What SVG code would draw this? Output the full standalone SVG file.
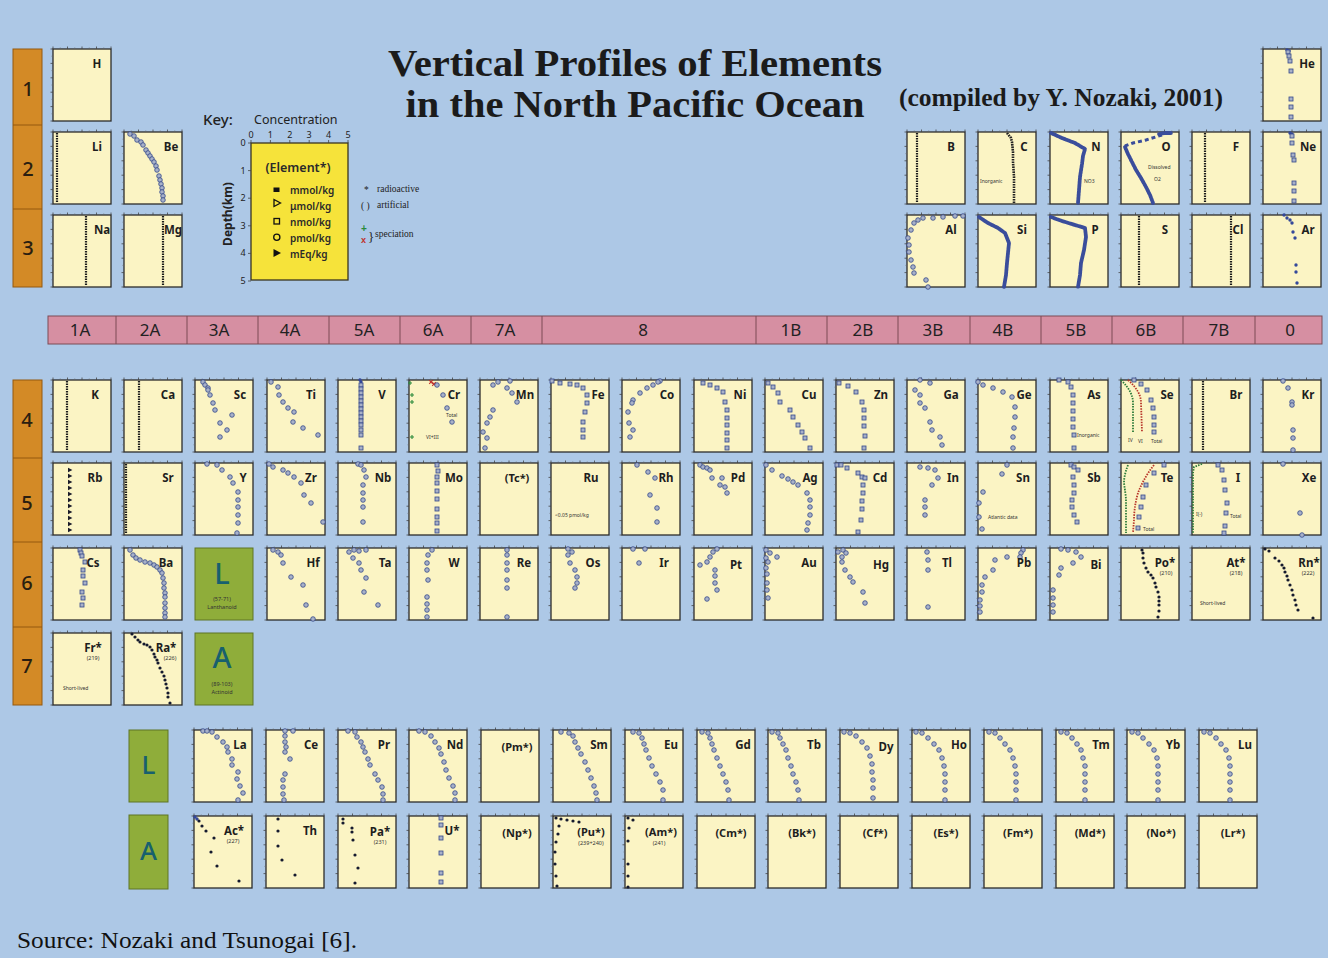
<svg xmlns="http://www.w3.org/2000/svg" xmlns:xlink="http://www.w3.org/1999/xlink" width="1328" height="958" viewBox="0 0 1328 958">
<style>
.bx{fill:#fbf4c4;stroke:#2b2b2b;stroke-width:1.3}
.tk{stroke:#444;stroke-width:.8;fill:none}
.tm{stroke:#666;stroke-width:.6;fill:none}
.s{font:700 11.5px "Noto Sans","DejaVu Sans",sans-serif;fill:#1e1e1e;text-anchor:middle}
.p{font:700 11px "Noto Sans","DejaVu Sans",sans-serif;fill:#1e1e1e;text-anchor:middle}
.t5{font:5px "Noto Sans","DejaVu Sans",sans-serif;fill:#333}
.t6{font:5.5px "Noto Sans","DejaVu Sans",sans-serif;fill:#333;text-anchor:middle}
.dl{stroke:#1b1b1b;stroke-width:2.2;stroke-dasharray:1.4 1.1;fill:none}
.dk{stroke:#222;stroke-width:2.6;stroke-dasharray:1.6 .9;fill:none;stroke-linejoin:round}
.bl{stroke:#3a4d9b;stroke-width:3.8;fill:none;stroke-linejoin:round;stroke-linecap:round;stroke-dasharray:2.4 .8}
.bd{stroke:#3a4d9b;stroke-width:3;fill:none;stroke-dasharray:4 3}
.gl{stroke:#2a7a38;stroke-width:1.8;fill:none;stroke-dasharray:1.5 1.2}
.rl{stroke:#b8352a;stroke-width:1.8;fill:none;stroke-dasharray:1.5 1.2}
.pc{fill:none;stroke:none;marker-start:url(#mc);marker-mid:url(#mc);marker-end:url(#mc)}
.ps{fill:none;stroke:none;marker-start:url(#ms);marker-mid:url(#ms);marker-end:url(#ms)}
.pf{fill:none;stroke:none;marker-start:url(#mf);marker-mid:url(#mf);marker-end:url(#mf)}
.pt{fill:none;stroke:none;marker-start:url(#mt);marker-mid:url(#mt);marker-end:url(#mt)}
.pb{fill:none;stroke:none;marker-start:url(#mb);marker-mid:url(#mb);marker-end:url(#mb)}
.pg{fill:none;stroke:none;marker-start:url(#mg);marker-mid:url(#mg);marker-end:url(#mg)}
.pr{fill:none;stroke:none;marker-start:url(#mr);marker-mid:url(#mr);marker-end:url(#mr)}
.per{fill:#d38a26;stroke:#94580f;stroke-width:1}
.pn{font:500 20px "Noto Sans","DejaVu Sans",sans-serif;fill:#2a1e10;text-anchor:middle}
.gh{font:17px "Noto Sans","DejaVu Sans",sans-serif;fill:#222;text-anchor:middle}
.grn{fill:#8fad3a;stroke:#5e7424;stroke-width:1}
.gL{font:500 29px "Noto Sans","DejaVu Sans",sans-serif;fill:#17606e;text-anchor:middle}
.ttl{font:700 37px "Liberation Serif","Times New Roman",serif;fill:#1b1b1b;text-anchor:middle}
.ks{font:9.5px "Liberation Serif",serif;fill:#222}
.kx{font:9px "Noto Sans","DejaVu Sans",sans-serif;fill:#222;text-anchor:middle}
.kl{font:600 10px "Noto Sans","DejaVu Sans",sans-serif;fill:#2a2a2a}
</style>
<defs>
<marker id="mc" viewBox="-3 -3 6 6" markerWidth="6" markerHeight="6" refX="0" refY="0" markerUnits="userSpaceOnUse"><circle r="2.3" fill="#a8b1c8" stroke="#34488a" stroke-width=".8"/></marker>
<marker id="ms" viewBox="-3 -3 6 6" markerWidth="6" markerHeight="6" refX="0" refY="0" markerUnits="userSpaceOnUse"><rect x="-2" y="-2" width="4" height="4" fill="#a8b1c8" stroke="#34488a" stroke-width=".8"/></marker>
<marker id="mf" viewBox="-3 -3 6 6" markerWidth="6" markerHeight="6" refX="0" refY="0" markerUnits="userSpaceOnUse"><circle r="1.6" fill="#151a2e"/></marker>
<marker id="mt" viewBox="-3 -3 6 6" markerWidth="6" markerHeight="6" refX="0" refY="0" markerUnits="userSpaceOnUse"><path d="M-2,-2.2L2.4,0L-2,2.2Z" fill="#1a1a2a"/></marker>
<marker id="mb" viewBox="-3 -3 6 6" markerWidth="6" markerHeight="6" refX="0" refY="0" markerUnits="userSpaceOnUse"><circle r="1.7" fill="#34489a"/></marker>
<marker id="mg" viewBox="-3 -3 6 6" markerWidth="6" markerHeight="6" refX="0" refY="0" markerUnits="userSpaceOnUse"><path d="M-2,0H2M0,-2V2" stroke="#2a8a3a" stroke-width="1.1"/></marker>
<marker id="mr" viewBox="-3 -3 6 6" markerWidth="6" markerHeight="6" refX="0" refY="0" markerUnits="userSpaceOnUse"><path d="M-1.8,-1.8L1.8,1.8M-1.8,1.8L1.8,-1.8" stroke="#c0302a" stroke-width="1.1"/></marker>
<g id="fr"><rect class="bx" width="58" height="72"/><path class="tk" d="M0,0v-2.5M14.5,0v-2.5M29,0v-2.5M43.5,0v-2.5M58,0v-2.5M0,0h-2.5M0,14.4h-2.5M0,28.8h-2.5M0,43.2h-2.5M0,57.6h-2.5M0,72h-2.5"/><path class="tm" d="M0,7.2h-1.5M0,21.6h-1.5M0,36h-1.5M0,50.4h-1.5M0,64.8h-1.5M7.25,0v-1.5M21.75,0v-1.5M36.25,0v-1.5M50.75,0v-1.5"/></g>
</defs>
<rect width="1328" height="958" fill="#adc8e6"/>

<g id="title">
<text class="ttl" x="635" y="76" textLength="494" lengthAdjust="spacingAndGlyphs">Vertical Profiles of Elements</text>
<text class="ttl" x="635" y="117" textLength="459" lengthAdjust="spacingAndGlyphs">in the North Pacific Ocean</text>
<text x="899" y="106" textLength="324" lengthAdjust="spacingAndGlyphs" style="font:700 25px 'Liberation Serif','Times New Roman',serif;fill:#1b1b1b">(compiled by Y. Nozaki, 2001)</text>
</g>

<g id="periods">
<rect class="per" x="13" y="49" width="29" height="238"/>
<path d="M13,125H42M13,209H42" stroke="#94580f" stroke-width="1"/>
<text class="pn" x="28" y="96">1</text><text class="pn" x="28" y="176">2</text><text class="pn" x="28" y="255">3</text>
<rect class="per" x="13" y="380" width="29" height="325"/>
<path d="M13,458H42M13,542H42M13,627H42" stroke="#94580f" stroke-width="1"/>
<text class="pn" x="27" y="427">4</text><text class="pn" x="27" y="510">5</text><text class="pn" x="27" y="590">6</text><text class="pn" x="27" y="673">7</text>
</g>

<g id="groups">
<rect x="48" y="316" width="1274" height="28" fill="#d68fa2" stroke="#7d4a55" stroke-width="1"/>
<path d="M116,316V344M187,316V344M258,316V344M329,316V344M400,316V344M471,316V344M542,316V344M756,316V344M827,316V344M898,316V344M970,316V344M1041,316V344M1112,316V344M1183,316V344M1255,316V344" stroke="#7d4a55" stroke-width="1"/>
<text class="gh" x="80" y="336">1A</text><text class="gh" x="150" y="336">2A</text><text class="gh" x="219" y="336">3A</text><text class="gh" x="290" y="336">4A</text><text class="gh" x="364" y="336">5A</text><text class="gh" x="433" y="336">6A</text><text class="gh" x="505" y="336">7A</text><text class="gh" x="643" y="336">8</text><text class="gh" x="791" y="336">1B</text><text class="gh" x="863" y="336">2B</text><text class="gh" x="933" y="336">3B</text><text class="gh" x="1003" y="336">4B</text><text class="gh" x="1076" y="336">5B</text><text class="gh" x="1146" y="336">6B</text><text class="gh" x="1219" y="336">7B</text><text class="gh" x="1290" y="336">0</text>
</g>

<g id="key">
<text x="203" y="125" style="font:500 15px 'Noto Sans','DejaVu Sans',sans-serif;fill:#222">Key:</text>
<text x="254" y="124" style="font:12.5px 'Noto Sans','DejaVu Sans',sans-serif;fill:#222">Concentration</text>
<rect x="251" y="143" width="97" height="137" fill="#f6e33a" stroke="#3a3520" stroke-width="1.3"/>
<path class="tk" d="M251,143v-3M270.4,143v-3M289.8,143v-3M309.2,143v-3M328.6,143v-3M348,143v-3M251,143h-3M251,170.6h-3M251,198.2h-3M251,225.8h-3M251,253.4h-3M251,281h-3"/>
<text class="kx" x="251" y="138">0</text><text class="kx" x="270.4" y="138">1</text><text class="kx" x="289.8" y="138">2</text><text class="kx" x="309.2" y="138">3</text><text class="kx" x="328.6" y="138">4</text><text class="kx" x="348" y="138">5</text>
<text class="kx" x="243" y="146">0</text><text class="kx" x="243" y="174">1</text><text class="kx" x="243" y="201">2</text><text class="kx" x="243" y="229">3</text><text class="kx" x="243" y="256">4</text><text class="kx" x="243" y="284">5</text>
<text transform="translate(232,214) rotate(-90)" text-anchor="middle" style="font:700 12px 'Noto Sans','DejaVu Sans',sans-serif;fill:#222">Depth(km)</text>
<text x="298" y="172" text-anchor="middle" style="font:600 12.5px 'Noto Sans','DejaVu Sans',sans-serif;fill:#2a2a2a">(Element*)</text>
<rect x="273.5" y="187.5" width="6" height="4.5" fill="#111"/>
<path d="M274,199.5L280.5,203L274,206.5Z" fill="none" stroke="#111" stroke-width="1.3"/>
<rect x="274" y="218.5" width="5.5" height="5.5" fill="none" stroke="#111" stroke-width="1.3"/>
<circle cx="276.8" cy="237.3" r="3.1" fill="none" stroke="#111" stroke-width="1.3"/>
<path d="M273.5,249L281,253L273.5,257Z" fill="#111"/>
<text class="kl" x="290" y="194">mmol/kg</text>
<text class="kl" x="290" y="210">μmol/kg</text>
<text class="kl" x="290" y="226">nmol/kg</text>
<text class="kl" x="290" y="242">pmol/kg</text>
<text class="kl" x="290" y="258">mEq/kg</text>
<text class="ks" x="364" y="193">*</text><text class="ks" x="377" y="192">radioactive</text>
<text class="ks" x="361" y="209">( )</text><text class="ks" x="377" y="208">artificial</text>
<text x="361" y="232" style="font:700 10px 'Liberation Sans',sans-serif;fill:#2a8a3a">+</text>
<text x="361" y="243" style="font:700 9px 'Liberation Sans',sans-serif;fill:#c0302a">x</text>
<text x="368" y="241" style="font:13px 'Liberation Serif',serif;fill:#222">}</text>
<text class="ks" x="375" y="237">speciation</text>
</g>

<g id="connectors"></g>

<!-- Period 1 -->
<g id="n-H" transform="translate(53,49)"><use href="#fr"/><text class="s" x="44" y="19">H</text></g>
<g id="n-He" transform="translate(1263,49)"><use href="#fr"/><polyline class="pb" points="24,1 26,2"/><polyline class="ps" points="25,3 26,7 27,12 28,22 28,50 28,58 28,68"/><text class="s" x="44" y="19">He</text></g>

<!-- Period 2 -->
<g id="n-Li" transform="translate(53,132)"><use href="#fr"/><line class="dl" x1="4" y1="1" x2="4" y2="71"/><text class="s" x="44" y="19">Li</text></g>
<g id="n-Be" transform="translate(124,132)"><use href="#fr"/><polyline class="pc" points="6,2 10,4 13,8 17,10 19,13 22,18 24,21 26,24 28,27 30,30 32,34 33,38 35,44 36,48 37,52 38,56 38,60 39,64 39,68"/><text class="s" x="47" y="19">Be</text></g>
<g id="n-B" transform="translate(907,132)"><use href="#fr"/><line class="dl" x1="10" y1="1" x2="10" y2="71"/><text class="s" x="44" y="19">B</text></g>
<g id="n-C" transform="translate(978,132)"><use href="#fr"/><polyline class="dk" points="29,1 33,6 34,10 35,20 35,30 36,45 36,71"/><text class="t5" x="2" y="51">Inorganic</text><text class="s" x="46" y="19">C</text></g>
<g id="n-N" transform="translate(1050,132)"><use href="#fr"/><polyline class="bl" points="1,1 12,6 25,11 35,17 33,24 32,32 30,45 29,58 28,71"/><text class="t5" x="34" y="51">NO3</text><text class="s" x="46" y="19">N</text></g>
<g id="n-O" transform="translate(1121,132)"><use href="#fr"/><polyline class="bd" points="41,3 25,8 12,11 4,14"/><polyline class="bl" points="38,2 44,1 50,1"/><polyline class="bl" points="4,15 7,22 11,30 15,38 20,46 25,55 29,63 32,71"/><text class="t5" x="27" y="37">Dissolved</text><text class="t5" x="33" y="49">O2</text><text class="s" x="45" y="19">O</text></g>
<g id="n-F" transform="translate(1192,132)"><use href="#fr"/><line class="dl" x1="13" y1="1" x2="13" y2="71"/><text class="s" x="44" y="19">F</text></g>
<g id="n-Ne" transform="translate(1263,132)"><use href="#fr"/><polyline class="pb" points="27,1 29,2"/><polyline class="ps" points="29,4 29,11 30,23 31,28 31,51 31,59 31,69"/><text class="s" x="45" y="19">Ne</text></g>

<!-- Period 3 -->
<g id="n-Na" transform="translate(53,215)"><use href="#fr"/><line class="dl" x1="33" y1="1" x2="33" y2="71"/><text class="s" x="49" y="19">Na</text></g>
<g id="n-Mg" transform="translate(124,215)"><use href="#fr"/><line class="dl" x1="39" y1="1" x2="39" y2="71"/><text class="s" x="49" y="19">Mg</text></g>
<g id="n-Al" transform="translate(907,215)"><use href="#fr"/><polyline class="pc" points="56,1 48,1 36,2 26,3 16,3 11,5 7,8 4,15 1,23 2,30 2,37 4,45 6,52 7,58 19,65 21,72"/><text class="s" x="44" y="19">Al</text></g>
<g id="n-Si" transform="translate(978,215)"><use href="#fr"/><polyline class="bl" points="1,2 10,8 20,13 27,18 31,28 30,38 29,48 28,60 26,72"/><text class="s" x="44" y="19">Si</text></g>
<g id="n-P" transform="translate(1050,215)"><use href="#fr"/><polyline class="bl" points="1,2 12,6 25,10 35,13 36,22 34,35 31,48 30,60 28,72"/><text class="s" x="45" y="19">P</text></g>
<g id="n-S" transform="translate(1121,215)"><use href="#fr"/><line class="dl" x1="18" y1="1" x2="18" y2="71"/><text class="s" x="44" y="19">S</text></g>
<g id="n-Cl" transform="translate(1192,215)"><use href="#fr"/><line class="dl" x1="39" y1="1" x2="39" y2="71"/><text class="s" x="46" y="19">Cl</text></g>
<g id="n-Ar" transform="translate(1263,215)"><use href="#fr"/><polyline class="pb" points="21,0 24,3 27,5 29,8 30,17 32,23 33,50 33,57 34,68"/><text class="s" x="45" y="19">Ar</text></g>

<!-- Period 4 -->
<g id="n-K" transform="translate(53,380)"><use href="#fr"/><line class="dl" x1="14" y1="1" x2="14" y2="71"/><text class="s" x="42" y="19">K</text></g>
<g id="n-Ca" transform="translate(124,380)"><use href="#fr"/><line class="dl" x1="15" y1="1" x2="15" y2="71"/><text class="s" x="44" y="19">Ca</text></g>
<g id="n-Sc" transform="translate(195,380)"><use href="#fr"/><polyline class="pc" points="8,2 10,5 13,8 13,10 15,15 18,23 20,30 37,35 25,43 32,50 25,57"/><text class="s" x="45" y="19">Sc</text></g>
<g id="n-Ti" transform="translate(267,380)"><use href="#fr"/><polyline class="pc" points="4,2 11,7 12,15 16,22 21,28 27,32 26,42 36,48 51,55"/><text class="s" x="44" y="19">Ti</text></g>
<g id="n-V" transform="translate(338,380)"><use href="#fr"/><polyline class="pb" points="22,0 23,2"/><polyline class="ps" points="23,5 23,9 23,13 23,17 23,21 23,25 23,29 23,33 23,37 23,41 23,45 23,50 23,55 23,68"/><text class="s" x="44" y="19">V</text></g>
<g id="n-Cr" transform="translate(409,380)"><use href="#fr"/><polyline class="pg" points="1,3 3,15 3,22 3,57"/><polyline class="pr" points="22,2 25,4"/><polyline class="pc" points="28,5 34,15 38,28 43,42"/><text class="t5" x="37" y="37">Total</text><text class="t5" x="17" y="59">VI+III</text><text class="s" x="45" y="19">Cr</text></g>
<g id="n-Mn" transform="translate(480,380)"><use href="#fr"/><polyline class="pc" points="13,5 18,2 30,1 27,8 32,13 37,22 13,30 10,37 7,43 3,52 7,58 5,68"/><text class="s" x="45" y="19">Mn</text></g>
<g id="n-Fe" transform="translate(551,380)"><use href="#fr"/><polyline class="ps" points="1,1 9,3 19,4 26,5 32,8 36,15 36,23 34,32 32,42 32,50 32,57"/><text class="s" x="47" y="19">Fe</text></g>
<g id="n-Co" transform="translate(622,380)"><use href="#fr"/><polyline class="pc" points="38,1 36,2 31,5 25,8 18,13 11,20 10,23 6,32 7,43 11,50 8,57"/><text class="s" x="45" y="19">Co</text></g>
<g id="n-Ni" transform="translate(694,380)"><use href="#fr"/><polyline class="ps" points="9,3 16,5 23,8 29,12 31,22 33,30 33,38 33,45 33,53 33,60 33,68"/><text class="s" x="46" y="19">Ni</text></g>
<g id="n-Cu" transform="translate(765,380)"><use href="#fr"/><polyline class="ps" points="3,3 8,7 13,13 15,22 25,30 28,37 33,45 37,52 40,58 45,68"/><text class="s" x="44" y="19">Cu</text></g>
<g id="n-Zn" transform="translate(836,380)"><use href="#fr"/><polyline class="ps" points="3,3 12,6 20,12 26,22 28,30 28,38 28,46 29,56 28,68"/><text class="s" x="45" y="19">Zn</text></g>
<g id="n-Ga" transform="translate(907,380)"><use href="#fr"/><polyline class="pc" points="13,0 23,3 8,10 13,15 13,23 18,28 23,42 25,50 33,57 35,65"/><text class="s" x="44" y="19">Ga</text></g>
<g id="n-Ge" transform="translate(978,380)"><use href="#fr"/><polyline class="pc" points="0,2 5,5 15,8 25,12 34,17 37,27 37,37 36,48 35,57 35,68"/><text class="s" x="46" y="19">Ge</text></g>
<g id="n-As" transform="translate(1050,380)"><use href="#fr"/><polyline class="ps" points="9,0 18,2 21,7 23,15 23,23 23,31 23,39 23,47 24,55 24,68"/><text class="t5" x="27" y="57">Inorganic</text><text class="s" x="44" y="19">As</text></g>
<g id="n-Se" transform="translate(1121,380)"><use href="#fr"/><path class="gl" d="M0,0C8,8 12,15 12,23L12,52"/><path class="rl" d="M7,0C16,8 20,15 20,23L21,52"/><polyline class="ps" points="13,0 20,4 26,10 30,20 32,28 33,37 33,45 33,52"/><text class="t5" x="7" y="62">IV</text><text class="t5" x="17" y="63">VI</text><text class="t5" x="30" y="63">Total</text><text class="s" x="46" y="19">Se</text></g>
<g id="n-Br" transform="translate(1192,380)"><use href="#fr"/><line class="dl" x1="11" y1="1" x2="11" y2="71"/><text class="s" x="44" y="19">Br</text></g>
<g id="n-Kr" transform="translate(1263,380)"><use href="#fr"/><polyline class="pc" points="20,1 25,8 29,22 29,25 30,50 30,58 30,70"/><text class="s" x="45" y="19">Kr</text></g>

<!-- Period 5 -->
<g id="n-Rb" transform="translate(53,463)"><use href="#fr"/><polyline class="pt" points="17,7 17,13 17,19 17,25 17,31 17,37 17,43 17,49 17,55 17,61 17,67"/><text class="s" x="42" y="19">Rb</text></g>
<g id="n-Sr" transform="translate(124,463)"><use href="#fr"/><line class="dl" x1="2" y1="1" x2="2" y2="71"/><text class="s" x="44" y="19">Sr</text></g>
<g id="n-Y" transform="translate(195,463)"><use href="#fr"/><polyline class="pc" points="12,1 22,2 27,7 35,14 38,20 43,29 43,37 43,44 43,52 43,60 42,70"/><text class="s" x="48" y="19">Y</text></g>
<g id="n-Zr" transform="translate(267,463)"><use href="#fr"/><polyline class="pc" points="2,1 6,4 16,7 21,10 27,14 34,20 37,32 44,40 56,59"/><text class="s" x="44" y="19">Zr</text></g>
<g id="n-Nb" transform="translate(338,463)"><use href="#fr"/><polyline class="pc" points="20,1 23,2 26,7 28,14 25,22 25,30 25,37 25,44 25,59"/><text class="s" x="45" y="19">Nb</text></g>
<g id="n-Mo" transform="translate(409,463)"><use href="#fr"/><polyline class="ps" points="28,2 29,8 28,14 28,20 28,28 28,36 28,46 28,54 28,60 28,68"/><text class="s" x="45" y="19">Mo</text></g>
<g id="n-Tc" transform="translate(480,463)"><use href="#fr"/><text class="p" x="37" y="19">(Tc*)</text></g>
<g id="n-Ru" transform="translate(551,463)"><use href="#fr"/><text class="t5" x="4" y="54">&lt;0.05 pmol/kg</text><text class="s" x="40" y="19">Ru</text></g>
<g id="n-Rh" transform="translate(622,463)"><use href="#fr"/><polyline class="pc" points="15,2 26,9 33,15 28,32 35,45 35,59"/><text class="s" x="44" y="19">Rh</text></g>
<g id="n-Pd" transform="translate(694,463)"><use href="#fr"/><polyline class="pc" points="6,2 9,4 13,5 16,7 18,15 28,15 26,22 31,24 33,30"/><text class="s" x="44" y="19">Pd</text></g>
<g id="n-Ag" transform="translate(765,463)"><use href="#fr"/><polyline class="pc" points="1,2 7,7 17,13 23,16 28,19 33,22 42,30 45,37 45,44 45,52 43,60 42,67"/><text class="s" x="45" y="19">Ag</text></g>
<g id="n-Cd" transform="translate(836,463)"><use href="#fr"/><polyline class="ps" points="1,2 5,2 11,5 22,10 26,14 29,15 27,22 27,30 26,38 26,46 25,57 22,69"/><text class="s" x="44" y="19">Cd</text></g>
<g id="n-In" transform="translate(907,463)"><use href="#fr"/><polyline class="pc" points="13,4 21,5 28,7 31,15 25,22 18,37 18,44 18,52"/><text class="s" x="46" y="19">In</text></g>
<g id="n-Sn" transform="translate(978,463)"><use href="#fr"/><polyline class="pc" points="29,2 24,11 5,29 1,40 1,54 4,66"/><text class="t5" x="10" y="56">Atlantic data</text><text class="s" x="45" y="19">Sn</text></g>
<g id="n-Sb" transform="translate(1050,463)"><use href="#fr"/><polyline class="ps" points="21,2 24,4 28,7 23,14 24,22 24,30 22,37 22,44 24,52 27,59"/><text class="s" x="44" y="19">Sb</text></g>
<g id="n-Te" transform="translate(1121,463)"><use href="#fr"/><path class="gl" d="M7,2C4,10 3,15 3,20C4,28 5,33 5,38L5,70"/><path class="rl" d="M33,2C25,12 20,22 17,30C14,40 13,50 13,57L12,70"/><polyline class="ps" points="43,2 33,10 25,22 22,34 20,44 18,54 17,65"/><text class="t5" x="22" y="68">Total</text><text class="s" x="46" y="19">Te</text></g>
<g id="n-I" transform="translate(1192,463)"><use href="#fr"/><path class="gl" d="M10,1L2,4L1,10L1,70"/><polyline class="ps" points="26,2 30,7 32,17 33,27 35,40 34,50 33,63 32,70"/><text class="t5" x="4" y="53">I(-)</text><text class="t5" x="38" y="55">Total</text><text class="s" x="46" y="19">I</text></g>
<g id="n-Xe" transform="translate(1263,463)"><use href="#fr"/><polyline class="pc" points="20,1 37,50 39,72"/><text class="s" x="46" y="19">Xe</text></g>

<!-- Period 6 -->
<g id="n-Cs" transform="translate(53,548)"><use href="#fr"/><polyline class="ps" points="27,2 28,5 29,8 32,14 30,22 30,28 32,35 29,44 30,50 29,57"/><text class="s" x="40" y="19">Cs</text></g>
<g id="n-Ba" transform="translate(124,548)"><use href="#fr"/><polyline class="pc" points="6,2 9,7 12,10 16,12 21,14 26,15 30,17 33,19 36,22 38,25 39,30 40,35 40,40 41,45 41,49 41,55 41,60 41,65 41,69"/><text class="s" x="42" y="19">Ba</text></g>
<g id="n-Lan" transform="translate(195,548)"><rect class="grn" width="58" height="72"/><text class="gL" x="27" y="36">L</text><text class="t6" x="27" y="53">(57-71)</text><text class="t6" x="27" y="61">Lanthanoid</text></g>
<g id="n-Hf" transform="translate(267,548)"><use href="#fr"/><polyline class="pc" points="6,2 11,4 14,7 16,15 24,29 36,37 39,57 46,71"/><text class="s" x="46" y="19">Hf</text></g>
<g id="n-Ta" transform="translate(338,548)"><use href="#fr"/><polyline class="pc" points="11,4 16,2 21,3 28,2 15,10 21,15 23,22 28,30 26,44 40,57"/><text class="s" x="47" y="19">Ta</text></g>
<g id="n-W" transform="translate(409,548)"><use href="#fr"/><polyline class="pc" points="23,2 19,7 18,15 18,22 19,32 18,49 18,56 18,62 18,69"/><text class="s" x="45" y="19">W</text></g>
<g id="n-Re" transform="translate(480,548)"><use href="#fr"/><polyline class="pc" points="27,2 27,7 27,15 27,22 27,32 27,40 27,69"/><text class="s" x="44" y="19">Re</text></g>
<g id="n-Os" transform="translate(551,548)"><use href="#fr"/><polyline class="pc" points="17,1 21,4 17,7 19,15 24,22 26,29 26,35 24,40"/><text class="s" x="42" y="19">Os</text></g>
<g id="n-Ir" transform="translate(622,548)"><use href="#fr"/><polyline class="pc" points="11,1 23,1 17,15"/><text class="s" x="42" y="19">Ir</text></g>
<g id="n-Pt" transform="translate(694,548)"><use href="#fr"/><polyline class="pc" points="23,1 19,4 16,9 13,14 6,17 21,22 21,28 21,35 23,42 13,51"/><text class="s" x="42" y="21">Pt</text></g>
<g id="n-Au" transform="translate(765,548)"><use href="#fr"/><polyline class="pc" points="1,2 5,5 1,10 12,9 3,14 1,20 2,26 2,35 2,42 3,50"/><text class="s" x="44" y="19">Au</text></g>
<g id="n-Hg" transform="translate(836,548)"><use href="#fr"/><polyline class="pc" points="2,4 7,2 10,5 6,9 6,14 9,22 14,29 17,34 27,44 29,55"/><text class="s" x="45" y="21">Hg</text></g>
<g id="n-Tl" transform="translate(907,548)"><use href="#fr"/><polyline class="pc" points="20,4 21,12 21,22 21,59"/><text class="s" x="40" y="19">Tl</text></g>
<g id="n-Pb" transform="translate(978,548)"><use href="#fr"/><polyline class="pc" points="45,2 43,5 42,9 29,9 17,12 15,22 7,29 4,37 4,44 2,52 2,58 2,64"/><text class="s" x="46" y="19">Pb</text></g>
<g id="n-Bi" transform="translate(1050,548)"><use href="#fr"/><polyline class="pc" points="11,1 18,2 26,4 31,9 23,15 11,20 9,27 3,42 3,50 3,57 3,64"/><text class="s" x="46" y="21">Bi</text></g>
<g id="n-Po" transform="translate(1121,548)"><use href="#fr"/><polyline class="pf" points="21,2 22,5 22,10 23,15 25,20 27,24 30,27 32,30 34,35 35,39 37,44 38,49 38,53 38,57 38,63 37,69"/><text class="s" x="44" y="19">Po*</text><text class="t6" x="45" y="27">(210)</text></g>
<g id="n-At" transform="translate(1192,548)"><use href="#fr"/><text class="s" x="44" y="19">At*</text><text class="t6" x="44" y="27">(218)</text><text class="t5" x="8" y="57">Short-lived</text></g>
<g id="n-Rn" transform="translate(1263,548)"><use href="#fr"/><polyline class="pf" points="2,1 6,3 12,10 16,13 19,17 21,20 22,24 24,28 25,32 27,37 29,42 30,47 32,52 33,57 35,62 50,70"/><text class="s" x="46" y="19">Rn*</text><text class="t6" x="45" y="27">(222)</text></g>

<!-- Period 7 -->
<g id="n-Fr" transform="translate(53,633)"><use href="#fr"/><text class="s" x="40" y="19">Fr*</text><text class="t6" x="40" y="27">(219)</text><text class="t5" x="10" y="57">Short-lived</text></g>
<g id="n-Ra" transform="translate(124,633)"><use href="#fr"/><polyline class="pf" points="8,1 11,4 14,7 16,9 20,11 23,12 26,14 28,17 30,21 31,24 33,27 34,30 36,35 38,39 40,43 41,47 42,51 43,55 44,60 44,64 46,70"/><text class="s" x="42" y="19">Ra*</text><text class="t6" x="46" y="27">(226)</text></g>
<g id="n-Act" transform="translate(195,633)"><rect class="grn" width="58" height="72"/><text class="gL" x="27" y="35">A</text><text class="t6" x="27" y="53">(89-103)</text><text class="t6" x="27" y="61">Actinoid</text></g>

<!-- Lanthanide / actinide rows -->
<g id="n-Lrow" transform="translate(129,730)"><rect class="grn" width="39" height="72"/><text class="gL" x="19.5" y="44" style="font-size:26px">L</text></g>
<g id="n-Arow" transform="translate(129,815)"><rect class="grn" width="39" height="74"/><text class="gL" x="19.5" y="45" style="font-size:26px">A</text></g>

<g id="n-La" transform="translate(194,730)"><use href="#fr"/><polyline class="pc" points="9,1 13,1 18,2 23,7 29,12 33,17 34,22 38,29 38,35 44,42 43,49 46,56 49,63 44,70"/><text class="s" x="46" y="19">La</text></g>
<g id="n-Ce" transform="translate(266,730)"><use href="#fr"/><polyline class="pc" points="19,1 27,1 19,6 19,12 20,17 19,22 24,29 19,44 17,50 17,57 17,64 18,70"/><text class="s" x="45" y="19">Ce</text></g>
<g id="n-Pr" transform="translate(338,730)"><use href="#fr"/><polyline class="pc" points="10,1 17,2 19,7 23,12 25,17 27,22 30,29 32,35 37,44 40,50 44,57 45,64 45,70"/><text class="s" x="46" y="19">Pr</text></g>
<g id="n-Nd" transform="translate(409,730)"><use href="#fr"/><polyline class="pc" points="10,1 16,2 22,6 26,12 30,18 32,24 35,32 37,40 40,48 44,56 46,63 46,70"/><text class="s" x="46" y="19">Nd</text></g>
<g id="n-Pm" transform="translate(481,730)"><use href="#fr"/><text class="p" x="36" y="21">(Pm*)</text></g>
<g id="n-Sm" transform="translate(553,730)"><use href="#fr"/><polyline class="pc" points="8,2 16,3 20,6 22,12 25,18 28,24 32,32 35,40 38,48 41,56 43,63 44,70"/><text class="s" x="46" y="19">Sm</text></g>
<g id="n-Eu" transform="translate(625,730)"><use href="#fr"/><polyline class="pc" points="8,2 14,3 17,8 19,14 21,20 24,28 27,36 31,44 35,52 38,60 38,70"/><text class="s" x="46" y="19">Eu</text></g>
<g id="n-Gd" transform="translate(697,730)"><use href="#fr"/><polyline class="pc" points="5,2 11,3 13,8 15,14 17,20 20,28 23,36 26,44 29,52 31,60 32,70"/><text class="s" x="46" y="19">Gd</text></g>
<g id="n-Tb" transform="translate(768,730)"><use href="#fr"/><polyline class="pc" points="4,2 10,3 12,8 15,14 18,20 20,28 23,36 25,44 28,52 30,60 31,70"/><text class="s" x="46" y="19">Tb</text></g>
<g id="n-Dy" transform="translate(840,730)"><use href="#fr"/><polyline class="pc" points="4,2 10,3 16,6 22,12 27,18 30,26 32,34 32,42 33,50 33,58 33,68"/><text class="s" x="46" y="21">Dy</text></g>
<g id="n-Ho" transform="translate(912,730)"><use href="#fr"/><polyline class="pc" points="4,2 10,3 16,8 22,14 27,20 30,28 32,36 33,44 33,52 33,60 33,70"/><text class="s" x="47" y="19">Ho</text></g>
<g id="n-Er" transform="translate(984,730)"><use href="#fr"/><polyline class="pc" points="5,2 11,3 16,8 21,14 26,20 29,28 31,36 32,44 32,52 32,60 32,70"/></g>
<g id="n-Tm" transform="translate(1056,730)"><use href="#fr"/><polyline class="pc" points="5,2 11,3 16,8 21,14 25,20 27,28 29,36 29,44 29,52 29,60 29,70"/><text class="s" x="45" y="19">Tm</text></g>
<g id="n-Yb" transform="translate(1127,730)"><use href="#fr"/><polyline class="pc" points="5,2 11,3 16,8 22,14 27,20 30,28 31,36 31,44 31,52 31,60 31,70"/><text class="s" x="46" y="19">Yb</text></g>
<g id="n-Lu" transform="translate(1199,730)"><use href="#fr"/><polyline class="pc" points="5,2 11,3 17,8 22,14 27,20 30,28 31,36 31,44 31,52 31,60 31,70"/><text class="s" x="46" y="19">Lu</text></g>

<g id="n-Ac" transform="translate(194,816)"><use href="#fr"/><polyline class="pb" points="1,1 3,3"/><polyline class="pf" points="5,5 8,10 12,15 20,22 17,36 23,50 45,65"/><text class="s" x="40" y="19">Ac*</text><text class="t6" x="39" y="27">(227)</text></g>
<g id="n-Th" transform="translate(266,816)"><use href="#fr"/><polyline class="pf" points="12,3 12,15 12,30 16,44 29,59"/><text class="s" x="44" y="19">Th</text></g>
<g id="n-Pa" transform="translate(338,816)"><use href="#fr"/><polyline class="pf" points="5,3 5,7 14,12 14,16 15,24 17,39 20,52 17,67"/><text class="s" x="42" y="20">Pa*</text><text class="t6" x="42" y="28">(231)</text></g>
<g id="n-U" transform="translate(409,816)"><use href="#fr"/><polyline class="ps" points="32,2 32,9 32,22 32,37 32,57 32,66"/><text class="s" x="43" y="19">U*</text></g>
<g id="n-Np" transform="translate(481,816)"><use href="#fr"/><text class="p" x="36" y="21">(Np*)</text></g>
<g id="n-Pu" transform="translate(553,816)"><use href="#fr"/><polyline class="pf" points="3,2 8,3 14,4 20,5 26,6 6,10 5,18 3,26 2,36 2,48 3,60 4,70"/><text class="p" x="38" y="20">(Pu*)</text><text class="t6" x="38" y="29">(239+240)</text></g>
<g id="n-Am" transform="translate(625,816)"><use href="#fr"/><polyline class="pf" points="3,2 8,4 4,12 3,25 3,48 3,60 3,71"/><text class="p" x="36" y="20">(Am*)</text><text class="t6" x="34" y="29">(241)</text></g>
<g id="n-Cm" transform="translate(697,816)"><use href="#fr"/><text class="p" x="34" y="21">(Cm*)</text></g>
<g id="n-Bk" transform="translate(768,816)"><use href="#fr"/><text class="p" x="34" y="21">(Bk*)</text></g>
<g id="n-Cf" transform="translate(840,816)"><use href="#fr"/><text class="p" x="35" y="21">(Cf*)</text></g>
<g id="n-Es" transform="translate(912,816)"><use href="#fr"/><text class="p" x="34" y="21">(Es*)</text></g>
<g id="n-Fm" transform="translate(984,816)"><use href="#fr"/><text class="p" x="34" y="21">(Fm*)</text></g>
<g id="n-Md" transform="translate(1056,816)"><use href="#fr"/><text class="p" x="34" y="21">(Md*)</text></g>
<g id="n-No" transform="translate(1127,816)"><use href="#fr"/><text class="p" x="34" y="21">(No*)</text></g>
<g id="n-Lr" transform="translate(1199,816)"><use href="#fr"/><text class="p" x="34" y="21">(Lr*)</text></g>

<text id="source" x="17" y="948" textLength="340" lengthAdjust="spacingAndGlyphs" style="font:22.5px 'Liberation Serif','Times New Roman',serif;fill:#111">Source: Nozaki and Tsunogai [6].</text>
</svg>
